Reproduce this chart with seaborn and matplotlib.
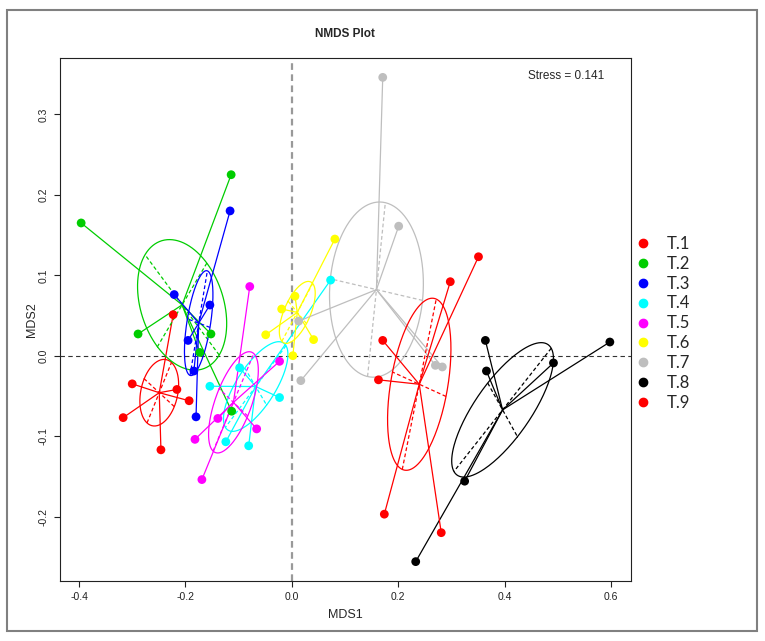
import numpy as np
import pandas as pd
import matplotlib
matplotlib.use('Agg')
import matplotlib.pyplot as plt
from matplotlib.patches import Rectangle
from matplotlib.lines import Line2D
import seaborn as sns

groups = ['T.1', 'T.2', 'T.3', 'T.4', 'T.5', 'T.6', 'T.7', 'T.8', 'T.9']
colors = ['#FF0000', '#00CD00', '#0000FF', '#00FFFF', '#FF00FF',
          '#FFFF00', '#BEBEBE', '#000000', '#FF0000']

# NMDS scores
t1_x = [-0.300, -0.317, -0.216, -0.193, -0.246, -0.223]
t1_y = [-0.035, -0.077, -0.042, -0.056, -0.117, 0.051]
t2_x = [-0.114, -0.396, -0.289, -0.152, -0.173, -0.113]
t2_y = [0.225, 0.165, 0.027, 0.027, 0.004, -0.069]
t3_x = [-0.116, -0.221, -0.154, -0.195, -0.184, -0.180]
t3_y = [0.180, 0.076, 0.063, 0.019, -0.019, -0.076]
t4_x = [-0.154, -0.098, -0.023, -0.124, -0.081, 0.073]
t4_y = [-0.038, -0.015, -0.052, -0.107, -0.112, 0.094]
t5_x = [-0.079, -0.023, -0.139, -0.066, -0.182, -0.169]
t5_y = [0.086, -0.007, -0.078, -0.091, -0.104, -0.154]
t6_x = [0.081, 0.006, -0.019, -0.049, 0.041, 0.002]
t6_y = [0.145, 0.074, 0.058, 0.026, 0.020, 0.000]
t7_x = [0.171, 0.201, 0.013, 0.017, 0.270, 0.283]
t7_y = [0.346, 0.161, 0.043, -0.031, -0.012, -0.014]
t8_x = [0.364, 0.366, 0.492, 0.598, 0.325, 0.233]
t8_y = [0.019, -0.019, -0.009, 0.017, -0.156, -0.256]
t9_x = [0.351, 0.298, 0.171, 0.163, 0.174, 0.281]
t9_y = [0.123, 0.092, 0.019, -0.030, -0.197, -0.220]

all_x = [t1_x, t2_x, t3_x, t4_x, t5_x, t6_x, t7_x, t8_x, t9_x]
all_y = [t1_y, t2_y, t3_y, t4_y, t5_y, t6_y, t7_y, t8_y, t9_y]
stress = 0.141
ell_scale = 0.74

df = pd.concat([pd.DataFrame({'MDS1': x, 'MDS2': y, 'group': g})
                for g, x, y in zip(groups, all_x, all_y)], ignore_index=True)

sns.set_style('white')
plt.rcParams['font.family'] = ['Liberation Sans', 'DejaVu Sans']
plt.rcParams['axes.unicode_minus'] = False

fig = plt.figure(figsize=(7.65, 6.41), dpi=100)
ax = fig.add_axes([60 / 765, 60 / 641, 571 / 765, 523 / 641])

ax.axhline(0, color='#333333', lw=0.8, ls=(0, (4, 3)), zorder=1)
ax.axvline(0, color='#999999', lw=1.6, ls=(0, (3, 2)), zorder=1)

t = np.linspace(0, 2 * np.pi, 200)
for g, c, xs, ys in zip(groups, colors, all_x, all_y):
    xs = np.array(xs)
    ys = np.array(ys)
    cx, cy = xs.mean(), ys.mean()
    # spider
    for px, py in zip(xs, ys):
        ax.plot([cx, px], [cy, py], color=c, lw=0.9, zorder=2)
    # ellipse from covariance
    vals, vecs = np.linalg.eigh(np.cov(xs, ys))
    rad = ell_scale * np.sqrt(vals)
    circ = np.vstack([rad[0] * np.cos(t), rad[1] * np.sin(t)])
    ell = vecs @ circ
    ax.plot(cx + ell[0], cy + ell[1], color=c, lw=0.9, zorder=2)
    for i in range(2):
        d = rad[i] * vecs[:, i]
        ax.plot([cx - d[0], cx + d[0]], [cy - d[1], cy + d[1]],
                color=c, lw=0.9, ls=(0, (3, 2)), zorder=2)

pal = {g: c for g, c in zip(groups, colors)}
sns.scatterplot(data=df, x='MDS1', y='MDS2', hue='group', palette=pal,
                s=40, edgecolor='none', legend=False, ax=ax, zorder=3)

xr = df['MDS1'].max() - df['MDS1'].min()
yr = df['MDS2'].max() - df['MDS2'].min()
ax.set_xlim(df['MDS1'].min() - 0.04 * xr, df['MDS1'].max() + 0.04 * xr)
ax.set_ylim(df['MDS2'].min() - 0.04 * yr, df['MDS2'].max() + 0.04 * yr)

ax.set_xticks([-0.4, -0.2, 0.0, 0.2, 0.4, 0.6])
ax.set_xticklabels(['-0.4', '-0.2', '0.0', '0.2', '0.4', '0.6'])
ax.set_yticks([-0.2, -0.1, 0.0, 0.1, 0.2, 0.3])
ax.set_yticklabels(['-0.2', '-0.1', '0.0', '0.1', '0.2', '0.3'], rotation=90, va='center')
ax.tick_params(direction='out', length=4, width=0.8, labelsize=7.5, pad=4,
               bottom=True, left=True, colors='#222222')
ax.set_xlabel('MDS1', fontsize=9, labelpad=5)
ax.set_ylabel('MDS2', fontsize=9, labelpad=1)
for sp in ax.spines.values():
    sp.set_color('#222222')
    sp.set_linewidth(0.8)

ax.text(0.953, 0.965, f'Stress = {stress}', transform=ax.transAxes,
        ha='right', va='center', fontsize=8.5)
fig.text(345 / 765, 1 - 34 / 641, 'NMDS Plot', ha='center', va='center',
         fontsize=8.5, fontweight='bold')

handles = [Line2D([], [], marker='o', ls='', color=c, markersize=6) for c in colors]
fig.legend(handles, groups, loc='upper left', bbox_to_anchor=(620 / 765, 1 - 221 / 641),
           frameon=False, handlelength=1.0, handletextpad=0.9,
           labelspacing=0.23, prop={'family': ['Lato', 'DejaVu Sans'], 'size': 12})

fig.add_artist(Rectangle((7 / 765, 10 / 641), 750 / 765, 621 / 641,
                         transform=fig.transFigure, fill=False,
                         edgecolor='#808080', lw=1.5))

fig.savefig('out.png', dpi=100)
